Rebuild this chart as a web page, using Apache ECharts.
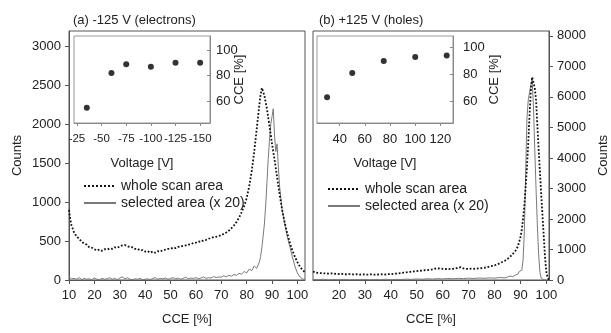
<!DOCTYPE html>
<html>
<head>
<meta charset="utf-8">
<script src="https://cdn.jsdelivr.net/npm/echarts@6/dist/echarts.min.js"></script>
<style>
  html, body { margin: 0; padding: 0; background: #fff; }
  #chart { width: 611px; height: 333px; }
</style>
</head>
<body>
<div id="chart"></div>
<script>
// (a) -125 V, electrons: [CCE %, counts]
const aWhole = [[10,900],[10.5,780],[11,700],[12,610],[13,560],[14,530],[15,490],[16,470],[17,455],[18,420],[19,415],[20,395],[21,380],[22,390],[23,375],[24,395],[25,390],[26,405],[27,400],[28,420],[29,415],[30,430],[31,445],[32,450],[33,435],[34,425],[35,420],[36,400],[37,400],[38,380],[39,385],[40,365],[41,370],[42,350],[43,365],[44,350],[45,370],[46,365],[47,385],[48,390],[49,400],[50,400],[51,415],[52,410],[53,425],[54,430],[55,440],[56,445],[57,455],[58,460],[59,475],[60,480],[61,495],[62,490],[63,510],[64,515],[65,530],[66,540],[67,550],[68,555],[69,565],[70,575],[71,595],[72,610],[73,635],[74,665],[75,700],[76,745],[77,800],[78,870],[79,950],[80,1050],[81,1200],[82,1400],[83,1650],[84,1950],[85,2250],[85.5,2380],[86,2470],[86.5,2450],[87,2370],[88,2200],[89,1980],[90,1750],[91,1550],[92,1320],[93,1100],[94,900],[95,740],[96,600],[97,480],[98,380],[99,300],[100,230],[101,170],[102,130],[103,100]];
const aSelected = [[10,40],[11,15],[12,20],[13,10],[14,30],[15,5],[16,20],[17,10],[18,15],[19,5],[20,25],[21,10],[22,5],[23,20],[24,10],[25,15],[26,30],[27,10],[28,20],[29,5],[30,25],[31,40],[32,15],[33,30],[34,10],[35,5],[36,15],[37,10],[38,20],[39,5],[40,10],[41,15],[42,5],[43,20],[44,30],[45,10],[46,20],[47,15],[48,25],[49,10],[50,20],[51,30],[52,15],[53,25],[54,10],[55,20],[56,35],[57,15],[58,25],[59,20],[60,30],[61,15],[62,25],[63,40],[64,20],[65,30],[66,25],[67,45],[68,30],[69,40],[70,35],[71,55],[72,40],[73,60],[74,50],[75,70],[76,60],[77,85],[78,75],[79,110],[80,90],[81,140],[82,120],[83,180],[84,150],[85,230],[85.5,300],[86,420],[86.5,560],[87,720],[87.5,950],[88,1250],[88.5,1550],[89,1800],[89.5,2000],[90,2100],[90.5,2200],[91,1850],[91.5,1650],[92,1750],[92.5,1450],[93,1200],[93.5,1050],[94,900],[95,720],[96,560],[97,430],[98,300],[99,180],[100,90],[101,40],[102,15],[103,5]];
const aInsetVoltage = [-35, -60, -75, -100, -125, -150];
const aInsetCce = [55, 82, 89, 87, 90, 90];

// (b) +125 V, holes
const bWhole = [[10,280],[11,240],[12,230],[13,225],[14,220],[15,215],[16,210],[17,220],[18,200],[19,205],[20,195],[21,200],[22,190],[23,185],[24,195],[25,185],[26,180],[27,190],[28,175],[29,185],[30,180],[31,175],[32,185],[33,180],[34,175],[35,180],[36,185],[37,190],[38,180],[39,195],[40,190],[41,200],[42,210],[43,220],[44,225],[45,240],[46,250],[47,265],[48,270],[49,285],[50,290],[51,300],[52,310],[53,320],[54,325],[55,335],[56,350],[57,370],[58,385],[59,375],[60,365],[61,360],[62,370],[63,355],[64,365],[65,380],[66,400],[67,420],[68,380],[69,365],[70,360],[71,370],[72,365],[73,375],[74,380],[75,390],[76,400],[77,420],[78,440],[79,460],[80,480],[81,510],[82,550],[83,590],[84,630],[85,690],[86,760],[87,850],[88,950],[89,1100],[90,1400],[90.5,1650],[91,2000],[91.5,2450],[92,3050],[92.5,3700],[93,4500],[93.5,5400],[94,6200],[94.5,6650],[95,6600],[95.5,6300],[96,5900],[96.5,5100],[97,4300],[97.5,3550],[98,2800],[98.5,2100],[99,1400],[99.5,700],[100,250],[100.5,60],[101,10]];
const bSelected = [[10,20],[12,10],[14,25],[16,5],[18,15],[20,10],[22,20],[24,5],[26,15],[28,10],[30,20],[32,5],[34,15],[36,10],[38,25],[40,10],[42,20],[44,15],[46,30],[48,20],[50,35],[52,25],[54,40],[56,30],[58,45],[60,35],[62,50],[64,40],[66,55],[68,45],[70,60],[72,50],[74,65],[76,55],[78,70],[80,60],[82,80],[84,70],[85,95],[86,130],[87,110],[88,160],[89,190],[89.5,280],[90,230],[90.5,320],[91,650],[91.5,1600],[92,3500],[92.5,5300],[93,5900],[93.5,6150],[94,6400],[94.5,6550],[95,5700],[95.5,4300],[96,3000],[96.5,1800],[97,850],[97.5,250],[98,60],[99,10],[100,0]];
const bInsetVoltage = [30, 50, 75, 100, 125];
const bInsetCce = [63, 81, 90, 93, 94];

// tick labels
const aCountTicks = [0, 500, 1000, 1500, 2000, 2500, 3000];
const bCountTicks = [0, 1000, 2000, 3000, 4000, 5000, 6000, 7000, 8000];
const aCceTicks = [10, 20, 30, 40, 50, 60, 70, 80, 90, 100];
const bCceTicks = [20, 30, 40, 50, 60, 70, 80, 90, 100];
const aVoltTicks = [-25, -50, -75, -100, -125, -150];
const bVoltTicks = [40, 60, 80, 100, 120];
const insetCceTicks = [60, 80, 100];

const FONT = 'Liberation Sans, Arial, sans-serif';
const TXT = '#222';
const AX = '#555';
const plain = (v) => String(v);

function mainX(gridIndex, min, max, ticks) {
  return {
    type: 'value', gridIndex, min, max,
    name: 'CCE [%]', nameLocation: 'middle', nameGap: 33, nameMoveOverlap: false,
    nameTextStyle: { fontFamily: FONT, fontSize: 13, color: TXT },
    axisLine: { lineStyle: { color: AX } },
    axisTick: { customValues: ticks, length: 4, lineStyle: { color: AX } },
    axisLabel: { customValues: ticks, margin: 9, formatter: plain, fontFamily: FONT, fontSize: 13, color: TXT },
    splitLine: { show: false },
  };
}

function mainY(gridIndex, max, ticks, position, nameGap) {
  return {
    type: 'value', gridIndex, min: 0, max, position,
    name: 'Counts', nameLocation: 'middle', nameGap, nameMoveOverlap: false,
    nameTextStyle: { fontFamily: FONT, fontSize: 13, color: TXT },
    axisLine: { show: true, lineStyle: { color: AX } },
    axisTick: { show: true, customValues: ticks, length: 4, lineStyle: { color: AX } },
    axisLabel: { customValues: ticks, margin: 8, formatter: plain, fontFamily: FONT, fontSize: 13, color: TXT },
    splitLine: { show: false },
  };
}

function insetX(gridIndex, min, max, ticks, inverse, fontSize) {
  return {
    type: 'value', gridIndex, min, max, inverse,
    name: 'Voltage [V]', nameLocation: 'middle', nameGap: 34, nameMoveOverlap: false,
    nameTextStyle: { fontFamily: FONT, fontSize: 13, color: TXT },
    axisLine: { lineStyle: { color: '#888' } },
    axisTick: { customValues: ticks, length: 3, lineStyle: { color: '#888' } },
    axisLabel: {
      customValues: ticks, margin: 10, formatter: plain, hideOverlap: false,
      showMinLabel: true, showMaxLabel: true, fontFamily: FONT, fontSize, color: TXT,
    },
    splitLine: { show: false },
  };
}

function insetY(gridIndex, min, max, margin, nameGap) {
  return {
    type: 'value', gridIndex, min, max, position: 'right',
    name: 'CCE [%]', nameLocation: 'middle', nameGap, nameMoveOverlap: false,
    nameTextStyle: { fontFamily: FONT, fontSize: 13, color: TXT },
    axisLine: { show: true, lineStyle: { color: '#888' } },
    axisTick: { show: true, inside: true, customValues: insetCceTicks, length: 3, lineStyle: { color: '#888' } },
    axisLabel: { customValues: insetCceTicks, margin, fontFamily: FONT, fontSize: 13, color: TXT },
    splitLine: { show: false },
  };
}

function legendAt(left, top) {
  return {
    data: ['whole scan area', 'selected area (x 20)'],
    orient: 'vertical', left, top, itemWidth: 32, itemHeight: 8, itemGap: 3, padding: 0,
    itemStyle: { opacity: 0 },
    textStyle: { fontFamily: FONT, fontSize: 14, color: TXT }, selectedMode: false,
  };
}

const zip = (xs, ys) => xs.map((x, i) => [x, ys[i]]);

const chart = echarts.init(document.getElementById('chart'), null, { renderer: 'canvas' });

chart.setOption({
  animation: false,
  backgroundColor: '#fff',
  textStyle: { fontFamily: FONT },
  title: [
    { text: '(a) -125 V (electrons)', left: 68, top: 9, textStyle: { fontFamily: FONT, fontSize: 13, fontWeight: 'normal', color: TXT } },
    { text: '(b) +125 V (holes)', left: 314, top: 9, textStyle: { fontFamily: FONT, fontSize: 13, fontWeight: 'normal', color: TXT } },
  ],
  legend: [legendAt(83, 179), legendAt(327, 182)],
  grid: [
    { left: 69, top: 31, width: 236, height: 249, show: true, borderColor: AX, borderWidth: 1 },
    { left: 313, top: 31, width: 237, height: 249, show: true, borderColor: AX, borderWidth: 1 },
    { left: 74, top: 36, width: 136, height: 87, show: true, borderColor: '#999', borderWidth: 1 },
    { left: 317, top: 36, width: 136, height: 87, show: true, borderColor: '#999', borderWidth: 1 },
  ],
  xAxis: [
    mainX(0, 10, 103, aCceTicks),
    mainX(1, 10, 101, bCceTicks),
    insetX(2, -160, -22, aVoltTicks, true, 11.5),
    insetX(3, 22, 130, bVoltTicks, false, 13),
  ],
  yAxis: [
    mainY(0, 3200, aCountTicks, 'left', 45),
    mainY(1, 8160, bCountTicks, 'right', 48),
    insetY(2, 43, 111, 6, 23),
    insetY(3, 44, 108.5, 10, 35),
  ],
  series: [
    {
      name: 'selected area (x 20)', type: 'line', xAxisIndex: 0, yAxisIndex: 0,
      data: aSelected, symbol: 'none', itemStyle: { color: '#7a7a7a' },
      lineStyle: { color: '#7a7a7a', width: 1 }, z: 2,
    },
    {
      name: 'whole scan area', type: 'line', xAxisIndex: 0, yAxisIndex: 0,
      data: aWhole, symbol: 'none', itemStyle: { color: '#111' },
      lineStyle: { color: '#111', width: 1.8, type: 'dotted' }, z: 3,
    },
    {
      name: 'selected area (x 20)', type: 'line', xAxisIndex: 1, yAxisIndex: 1,
      data: bSelected, symbol: 'none', itemStyle: { color: '#7a7a7a' },
      lineStyle: { color: '#7a7a7a', width: 1 }, z: 2,
    },
    {
      name: 'whole scan area', type: 'line', xAxisIndex: 1, yAxisIndex: 1,
      data: bWhole, symbol: 'none', itemStyle: { color: '#111' },
      lineStyle: { color: '#111', width: 1.8, type: 'dotted' }, z: 3,
    },
    {
      type: 'scatter', xAxisIndex: 2, yAxisIndex: 2, data: zip(aInsetVoltage, aInsetCce),
      symbol: 'circle', symbolSize: 6, itemStyle: { color: '#000' },
    },
    {
      type: 'scatter', xAxisIndex: 3, yAxisIndex: 3, data: zip(bInsetVoltage, bInsetCce),
      symbol: 'circle', symbolSize: 6, itemStyle: { color: '#000' },
    },
  ],
});
</script>
</body>
</html>
